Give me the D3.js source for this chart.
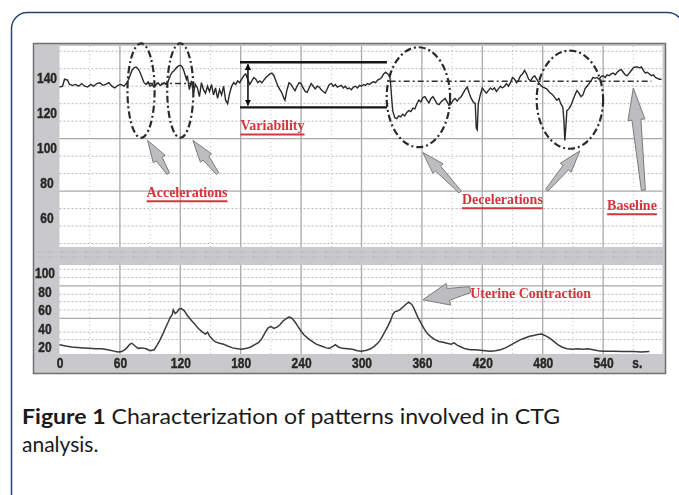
<!DOCTYPE html>
<html>
<head>
    <meta charset="utf-8">
    <title>CTG patterns</title>
    <script src="https://d3js.org/d3.v7.min.js"></script>
    <style>
        body { margin: 0; padding: 0; background: #fff; }
        .tick line, .domain { display: none; }
        .ax text {
            font-family: "Liberation Sans", "DejaVu Sans", sans-serif;
            font-weight: bold;
            font-size: 15px;
            fill: #262626;
            stroke: #262626;
            stroke-width: 0.4px;
        }
        .note {
            font-family: "Liberation Serif", "DejaVu Serif", serif;
            font-weight: bold;
            font-size: 14px;
            fill: #d4363c;
        }
        .caption {
            font-family: Lato, "Open Sans", sans-serif;
            font-size: 21px;
            fill: #1a1a1a;
        }
    </style>
</head>
<body>
<svg id="svg" width="679" height="495"></svg>

<script>
    // Fetal heart rate trace, [seconds, bpm]
    const fhr = [
        [0,134.5],[3,135],[5,139],[8,138.5],[10,136],[13,135.5],[16,136],[19,135],[22,136.5],[25,135],
        [28,134.5],[31,136],[34,135],[37,136.5],[40,137],[43,135.5],[46,136],[49,137],[52,135],[55,134],
        [58,135.5],[61,136],[64,135],[67,137],
        [68,138],[70,141],[72,144],[74,145.5],[76,146],[78,145],[80,143],[82,140],[84,137],[86,136],
        [88,137.5],[90,135],[92,136],[94,134.5],[96,136],[98,137],[100,135.5],[102,136],[104,137],[106,136],
        [108,138],[110,141],[112,143],[114,144],[116,145.5],[118,146.5],[120,147],[122,146],[124,143],[126,139],
        [127,141],[129,133],[131,138],[133,131],[135,136],[137,134],[139,129],[141,137],[143,133],[145,131],
        [147,135],[149,132],[151,136],[153,130],[155,134],[157,128],[159,133],[161,130],[163,135],[165,127],
        [167,125],[169,131],[171,135],[173,137],[175,136],[177,138],[179,137],
        [181,139],[183,141],[185,142],[187,139],[189,136],[191,138],[193,140],[195,139],[197,137],[199,138],
        [201,137],[203,138.5],[205,140],[207,141],[209,142],[211,142.5],[213,141],[215,138],[217,135],[219,133],
        [221,131],[223,128],[224,127],[226,133],[228,137],[230,136],[232,134],[234,132.5],[236,135],[238,137],
        [240,136.5],[242,134],[244,132],[246,131.5],[248,134],[250,136.5],[252,135],[254,133.5],[256,135],[258,134.5],
        [260,133],[262,132],[264,131],[266,133.5],[268,136],[270,136.5],[272,135],[274,136],[276,134.5],[278,135],
        [280,135.5],[282,134],[284,135],[286,133.5],[288,134],[290,133],[292,134.5],[294,135],[296,134],[298,135.5],
        [300,135],[302,136],[304,135.5],[306,136.5],[308,136],[310,137],[312,137.5],[314,137],[316,138.5],[318,139],
        [320,140],[322,142],[324,143],[326,142],[328,141],
        [329,136],[330,128],[331,121],[333,117],[335,116.5],[337,118],[339,117.5],[341,119],[343,118],[345,120],
        [347,121],[349,120.5],[351,122.5],[353,122],[355,125],[357,127],[359,126],[361,128.5],[363,129],[365,127],
        [367,125.5],[369,128],[371,129],[373,127],[375,125],[377,124.5],[379,126],[381,127],[383,128],[385,126],
        [387,124],[389,125],[391,127],[393,128],[395,126.5],[397,128],[399,129],[401,131],[403,133],[405,134.5],
        [407,131],[409,128],[411,126],[413,125],[414,111],[415,110],[416,125],[418,130],[420,134],[422,132.5],
        [424,131],[426,132.5],[428,134],[430,133],[432,134],[434,132],[436,133.5],[438,135],[440,134],[442,135],
        [444,136.5],[446,135],[448,137],[450,140],[452,139],[454,137],[456,138.5],[458,141],[460,142],[462,144],
        [464,142],[466,139],[468,138],[470,140],[472,141],[474,139],[476,137],
        [478,135.5],[480,134.5],[482,134],[484,133.5],[486,132],[488,131],[490,130],[492,128.5],[494,127],[496,128],
        [498,125],[500,123],[501,116],[502,104],[503,112],[504,121],[506,122],[508,124],[510,127],[512,130],
        [514,132.5],[516,131],[518,129],[520,130],[522,133.5],[524,135],[526,136.5],[528,138],[530,140],[532,139.5],
        [534,140],[536,139],[538,140.5],[540,141],[542,140],[544,141.5],[546,141],[548,142],[550,142.5],[552,141.5],
        [554,143],[556,144],[558,144.5],[560,143],[562,141.5],[564,141],[566,142.5],[568,144],[570,145.5],[572,146],
        [574,146],[576,145.5],[578,146],[580,144],[582,142.5],[584,143],[586,142],[588,141],[590,141.5],[592,140],
        [594,139.5],[596,139],[598,139]
    ];

    // Uterine contraction trace, [seconds, pressure]
    const uc = [
        [0,22.5],[6,21],[12,20],[18,19.5],[24,19],[30,18.5],[36,18],[42,18],[48,17],[54,15.5],
        [58,14.5],[62,15],[66,18],[70,23],[72,24],[75,21],[78,18.5],[82,19],[86,18],[90,16],
        [94,17],[97,22],[100,28],[103,35],[105,40],[108,47],[110,52],[112,55],[113,60],[115,56],
        [117,58],[119,61],[121,61.5],[124,59],[127,54],[130,50],[134,45],[138,40],[142,36],[145,34],
        [147,36],[149,32],[152,28],[155,25.5],[159,24],[163,23],[167,21],[172,19],[177,18],[181,17.5],
        [186,18.5],[190,20],[194,22.5],[198,25],[201,29],[204,35],[207,40.5],[210,42],[213,40],[216,41.5],
        [219,44],[222,48],[225,50.5],[228,52.5],[231,51],[234,47],[237,42],[240,37],[243,33],[247,29],
        [251,26],[255,23],[260,21],[265,19],[268,18.5],[272,21],[274,22.5],[277,20],[281,18.5],[286,18],
        [291,17.5],[296,16],[300,15.5],[305,16.5],[309,18],[313,21],[317,25],[320,30],[323,36],[326,42],
        [329,49],[331,55],[333,58],[336,59],[339,61],[342,64],[345,67],[347,68.5],[350,66],[352,62],
        [354,57],[356,52],[359,46],[362,40],[365,35],[369,31],[373,28],[377,26],[381,25],[385,24],
        [389,23],[392,24.5],[395,22],[399,20],[403,18],[408,17],[413,17],[418,16.5],[423,16],[428,15.5],
        [433,16],[438,17],[443,19],[448,22],[453,25],[458,28],[463,30],[467,31.5],[471,32.5],[475,33.5],
        [479,34],[483,32],[487,29.5],[491,26],[495,22.5],[499,20],[504,18],[510,17.5],[515,18],[520,17.5],
        [525,18],[530,17],[535,16],[540,15.5],[550,15.5],[560,15],[570,15],[578,14.5],[586,15]
    ];

    const timeTicks = [0, 60, 120, 180, 240, 300, 360, 420, 480, 540];
    const timeMinor = [30, 90, 150, 210, 270, 330, 390, 450, 510, 570];
    const fhrTicks = [60, 80, 100, 120, 140];
    const fhrGridMinor = [155, 145, 135, 125, 115, 95, 85, 65, 55, 45];
    const fhrGridMajor = [105, 75];
    const ucTicks = [20, 40, 60, 80, 100];
    const ucGridMinor = [28, 36, 60, 69, 77, 95, 104];
    const ucGridMajor = [51, 86];

    // annotations, in chart units
    const ovals = [
        { s: 81, bpm: 132.5, ds: 13.5, db: 27 },
        { s: 120, bpm: 132.5, ds: 13, db: 27 },
        { s: 356.5, bpm: 128.7, ds: 31.5, db: 28.6 },
        { s: 507, bpm: 127.3, ds: 33, db: 28.1 }
    ];
    const baselines = [
        { from: 87, to: 134, bpm: 136.5 },
        { from: 328, to: 588, bpm: 137.8 }
    ];
    const variability = { from: 179.3, to: 325.3, at: 187.2, hi: 148.7, lo: 122.9 };
    const arrows = [
        { from: [108, 85], to: [87.5, 104], big: false },
        { from: [157, 85], to: [132.5, 104], big: false },
        { from: [398, 74.5], to: [361, 97], big: false },
        { from: [484, 75.5], to: [517, 98], big: false },
        { from: [580, 75.5], to: [570, 134], big: true }
    ];
    const ucArrow = { from: [408, 82], to: [361, 71] };
    const notes = [
        { text: "Accelerations", s: 126.7, bpm: 71.4 },
        { text: "Variability", s: 211.6, bpm: 109.7 },
        { text: "Decelerations", s: 440, bpm: 67.4 },
        { text: "Baseline", s: 568.7, bpm: 64 }
    ];
    const ucNote = { text: "Uterine Contraction", s: 468, uc: 73 };

    const svg = d3.select("#svg");

    const x = d3.scaleLinear().domain([0, 599]).range([59.5, 662.5]);
    const yF = d3.scaleLinear().domain([43, 158]).range([247, 46]);
    const yU = d3.scaleLinear().domain([12.4, 108.6]).range([354, 265]);

    const defs = svg.append("defs");
    defs.append("filter").attr("id", "soft")
        .append("feGaussianBlur").attr("stdDeviation", 0.4);
    defs.append("marker")
        .attr("id", "tri").attr("viewBox", "0 0 10 10")
        .attr("refX", 9).attr("refY", 5)
        .attr("markerWidth", 4).attr("markerHeight", 4)
        .attr("orient", "auto-start-reverse")
        .append("path").attr("d", "M0,0L10,5L0,10Z").attr("fill", "#111");

    // Outer article frame
    svg.append("rect")
        .attr("x", 11.5).attr("y", 12.5)
        .attr("width", 672).attr("height", 600)
        .attr("rx", 16)
        .attr("fill", "none")
        .attr("stroke", "#284673")
        .attr("stroke-width", 1.5);

    const g = svg.append("g").attr("filter", "url(#soft)");

    // grey paper background
    g.append("rect")
        .attr("x", 33.5).attr("y", 43.5)
        .attr("width", 632).attr("height", 330)
        .attr("fill", "#c9c9cc")
        .attr("stroke", "#707070")
        .attr("stroke-width", 1.5);

    // texture in the middle band
    [252, 257].forEach(v => {
        g.append("line")
            .attr("x1", 36).attr("x2", 662)
            .attr("y1", v).attr("y2", v)
            .attr("stroke", "#aaaab2")
            .attr("stroke-dasharray", "5,2,2,3")
            .attr("opacity", 0.6);
    });

    function panel(y, majors, minors) {
        const [y0, y1] = y.range();
        g.append("rect")
            .attr("x", x(0)).attr("y", y1)
            .attr("width", x(599) - x(0)).attr("height", y0 - y1)
            .attr("fill", "#fff");

        g.selectAll(null).data(minors).enter().append("line")
            .attr("x1", x(0)).attr("x2", x(599))
            .attr("y1", d => y(d)).attr("y2", d => y(d))
            .attr("stroke", "#bbb4c6").attr("stroke-dasharray", "2,2");
        g.selectAll(null).data(timeMinor).enter().append("line")
            .attr("x1", d => x(d)).attr("x2", d => x(d))
            .attr("y1", y0).attr("y2", y1)
            .attr("stroke", "#c2bdca").attr("stroke-dasharray", "1,3");
        g.selectAll(null).data(majors).enter().append("line")
            .attr("x1", x(0)).attr("x2", x(599))
            .attr("y1", d => y(d)).attr("y2", d => y(d))
            .attr("stroke", "#a9a9ad").attr("stroke-width", 1.3);
        g.selectAll(null).data(timeTicks.slice(1)).enter().append("line")
            .attr("x1", d => x(d)).attr("x2", d => x(d))
            .attr("y1", y0).attr("y2", y1)
            .attr("stroke", "#a9a9ad").attr("stroke-width", 1.3);
    }
    panel(yF, fhrGridMajor, fhrGridMinor);
    panel(yU, ucGridMajor, ucGridMinor);

    // squeeze tick labels to look like the narrow print
    function narrow(sel) {
        sel.each(function () {
            const w = this.getComputedTextLength();
            d3.select(this).attr("textLength", w * 0.8).attr("lengthAdjust", "spacingAndGlyphs");
        });
    }

    // axes
    g.append("g").attr("class", "ax")
        .attr("transform", "translate(47,0)")
        .call(d3.axisLeft(yF).tickValues(fhrTicks).tickSize(0).tickPadding(0))
        .selectAll("text").attr("text-anchor", "middle").attr("x", 0).call(narrow);
    g.append("g").attr("class", "ax")
        .attr("transform", "translate(45,0)")
        .call(d3.axisLeft(yU).tickValues(ucTicks).tickSize(0).tickPadding(0))
        .selectAll("text").attr("text-anchor", "middle").attr("x", 0).call(narrow);
    const xa = g.append("g").attr("class", "ax")
        .attr("transform", "translate(0,357)")
        .call(d3.axisBottom(x).tickValues(timeTicks).tickSize(0).tickPadding(0));
    xa.append("text")
        .attr("x", x(574)).attr("dy", "0.71em")
        .attr("text-anchor", "middle")
        .text("s.");
    xa.selectAll("text").call(narrow);

    // traces
    const fhrLine = d3.line().x(d => x(d[0])).y(d => yF(d[1]));
    const ucLine = d3.line().x(d => x(d[0])).y(d => yU(d[1]));
    g.append("path").datum(fhr)
        .attr("d", fhrLine)
        .attr("fill", "none").attr("stroke", "#2a2a2a").attr("stroke-width", 1.4);
    g.append("path").datum(uc)
        .attr("d", ucLine)
        .attr("fill", "none").attr("stroke", "#3a3a3a").attr("stroke-width", 1.5);

    // variability bracket
    [variability.hi, variability.lo].forEach(v => {
        g.append("line")
            .attr("x1", x(variability.from)).attr("x2", x(variability.to))
            .attr("y1", yF(v)).attr("y2", yF(v))
            .attr("stroke", "#151515").attr("stroke-width", 2.4);
    });
    g.append("line")
        .attr("x1", x(variability.at)).attr("x2", x(variability.at))
        .attr("y1", yF(variability.hi) + 2).attr("y2", yF(variability.lo) - 2)
        .attr("stroke", "#151515").attr("stroke-width", 1.6)
        .attr("marker-start", "url(#tri)").attr("marker-end", "url(#tri)");

    // baseline marks
    g.selectAll(null).data(baselines).enter().append("line")
        .attr("x1", d => x(d.from)).attr("x2", d => x(d.to))
        .attr("y1", d => yF(d.bpm)).attr("y2", d => yF(d.bpm))
        .attr("stroke", "#333").attr("stroke-width", 1.5)
        .attr("stroke-dasharray", "6,3,2,3");

    // dash-dot ovals
    g.selectAll(null).data(ovals).enter().append("ellipse")
        .attr("cx", d => x(d.s)).attr("cy", d => yF(d.bpm))
        .attr("rx", d => x(d.ds) - x(0)).attr("ry", d => yF(0) - yF(d.db))
        .attr("fill", "none").attr("stroke", "#2c2c2c").attr("stroke-width", 2.2)
        .attr("stroke-dasharray", "7,3,2,3");

    // grey block arrows
    function arrowPath(p1, p2, hl, hw, sw, tw) {
        const dx = p2[0] - p1[0], dy = p2[1] - p1[1];
        const L = Math.hypot(dx, dy), ux = dx / L, uy = dy / L, nx = -uy, ny = ux;
        const bx = p2[0] - ux * hl, by = p2[1] - uy * hl;
        const pts = [
            [p2[0], p2[1]],
            [bx + nx * hw / 2, by + ny * hw / 2],
            [bx + nx * sw / 2, by + ny * sw / 2],
            [p1[0] + nx * tw / 2, p1[1] + ny * tw / 2],
            [p1[0] - nx * tw / 2, p1[1] - ny * tw / 2],
            [bx - nx * sw / 2, by - ny * sw / 2],
            [bx - nx * hw / 2, by - ny * hw / 2]
        ];
        return "M" + pts.map(p => p.join(",")).join("L") + "Z";
    }
    g.selectAll(null).data(arrows).enter().append("path")
        .attr("d", d => d.big
            ? arrowPath([x(d.from[0]), yF(d.from[1])], [x(d.to[0]), yF(d.to[1])], 32, 17, 9, 4)
            : arrowPath([x(d.from[0]), yF(d.from[1])], [x(d.to[0]), yF(d.to[1])], 22, 14, 7, 3))
        .attr("fill", "#bdbdbf").attr("stroke", "#7a7a7c").attr("stroke-width", 1);
    g.append("path")
        .attr("d", arrowPath([x(ucArrow.from[0]), yU(ucArrow.from[1])],
                             [x(ucArrow.to[0]), yU(ucArrow.to[1])], 26, 22, 12, 6))
        .attr("fill", "#bdbdbf").attr("stroke", "#7a7a7c").attr("stroke-width", 1);

    // red labels
    notes.forEach(n => {
        const t = g.append("text").attr("class", "note")
            .attr("x", x(n.s)).attr("y", yF(n.bpm))
            .attr("text-anchor", "middle")
            .text(n.text);
        const w = t.node().getComputedTextLength();
        g.append("line")
            .attr("x1", x(n.s) - w / 2).attr("x2", x(n.s) + w / 2)
            .attr("y1", yF(n.bpm) + 4).attr("y2", yF(n.bpm) + 4)
            .attr("stroke", "#d4363c").attr("stroke-width", 2);
    });
    g.append("text").attr("class", "note")
        .attr("x", x(ucNote.s)).attr("y", yU(ucNote.uc))
        .attr("text-anchor", "middle")
        .text(ucNote.text);

    // caption
    const cap = svg.append("text").attr("class", "caption")
        .attr("x", 22).attr("y", 424)
        .attr("textLength", 538).attr("lengthAdjust", "spacingAndGlyphs");
    cap.append("tspan").attr("font-weight", "bold").text("Figure 1");
    cap.append("tspan").text(" Characterization of patterns involved in CTG");
    svg.append("text").attr("class", "caption")
        .attr("x", 22).attr("y", 452)
        .text("analysis.");
</script>
</body>
</html>
